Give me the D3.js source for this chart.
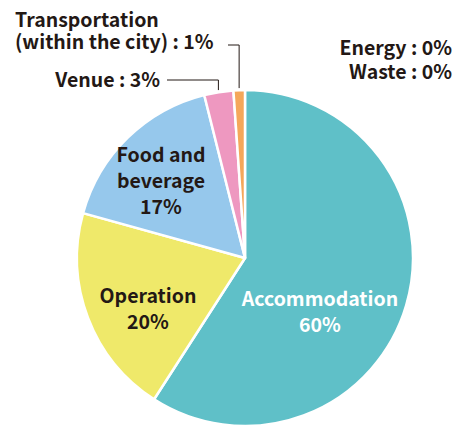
<!DOCTYPE html>
<html>
<head>
<meta charset="utf-8">
<script src="https://cdn.jsdelivr.net/npm/d3@7"></script>
<style>
  body { margin: 0; background: #fff; }
  text { font-family: "Noto Sans CJK JP", "Noto Sans", sans-serif; font-weight: 700; fill: #231815; }
</style>
</head>
<body>
<div id="container"></div>
<script>
/* DATA */
const categories = ["Accommodation", "Operation", "Food and beverage", "Venue", "Transportation (within the city)", "Energy", "Waste"];
const shares = [59.1, 20.2, 16.8, 2.8, 1.1, 0, 0];
const shareLabels = ["60%", "20%", "17%", "3%", "1%", "0%", "0%"];
const colors = ["#5fc0c8", "#efe96a", "#96c8ec", "#ee98c0", "#f5a75a", "#cccccc", "#cccccc"];

/* CONSTANTS */
const width = 454,
  height = 427,
  cx = 245,
  cy = 258,
  radius = 168,
  fontSize = 19.5;

const svg = d3.select("#container")
  .append("svg")
  .attr("width", width)
  .attr("height", height);

const data = categories.map((c, i) => ({ name: c, value: shares[i], label: shareLabels[i], color: colors[i] }));

const pie = d3.pie().sort(null).value(d => d.value);
const arc = d3.arc().innerRadius(0).outerRadius(radius);
const arcs = pie(data);

const g = svg.append("g").attr("transform", `translate(${cx},${cy})`);

g.selectAll("path")
  .data(arcs.filter(d => d.data.value > 0))
  .join("path")
  .attr("d", arc)
  .attr("fill", d => d.data.color)
  .attr("stroke", "#fff")
  .attr("stroke-width", 2.5)
  .attr("stroke-linejoin", "round");

// labels inside slices
const inside = [
  { i: 0, x: 320, y: 306, lines: ["Accommodation"], fill: "#fff" },
  { i: 1, x: 148, y: 303, lines: ["Operation"], fill: "#231815" },
  { i: 2, x: 161, y: 162, lines: ["Food and", "beverage"], fill: "#231815" }
];
inside.forEach(l => {
  const t = svg.append("text")
    .attr("text-anchor", "middle")
    .attr("font-size", fontSize)
    .style("fill", l.fill);
  const lines = l.lines.concat([arcs[l.i].data.label]);
  lines.forEach((s, k) => {
    t.append("tspan").attr("x", l.x).attr("y", l.y + k * 26).text(s);
  });
});

// outside labels with leader lines
const outer = (a) => {
  const p = d3.arc().innerRadius(radius + 2).outerRadius(radius + 2).centroid(a);
  return [cx + p[0], cy + p[1]];
};

// Transportation
const tr = arcs[4];
const trEnd = outer(tr);
svg.append("text").attr("x", 15).attr("y", 27).attr("font-size", fontSize).text("Transportation");
svg.append("text").attr("x", 15).attr("y", 49).attr("font-size", fontSize)
  .text("(within the city) : " + tr.data.label);
svg.append("path")
  .attr("d", `M228,45H${trEnd[0]}V${trEnd[1]}`)
  .attr("fill", "none").attr("stroke", "#231815").attr("stroke-width", 1);

// Venue
const ve = arcs[3];
const veEnd = outer(ve);
svg.append("text").attr("x", 160).attr("y", 87).attr("font-size", fontSize).attr("text-anchor", "end")
  .text("Venue : " + ve.data.label);
svg.append("path")
  .attr("d", `M167,80H${veEnd[0]}V${veEnd[1]}`)
  .attr("fill", "none").attr("stroke", "#231815").attr("stroke-width", 1);

// zero slices
svg.append("text").attr("x", 452).attr("y", 55).attr("font-size", fontSize).attr("text-anchor", "end")
  .text(arcs[5].data.name + " : " + arcs[5].data.label);
svg.append("text").attr("x", 452).attr("y", 79).attr("font-size", fontSize).attr("text-anchor", "end")
  .text(arcs[6].data.name + " : " + arcs[6].data.label);
</script>
</body>
</html>
